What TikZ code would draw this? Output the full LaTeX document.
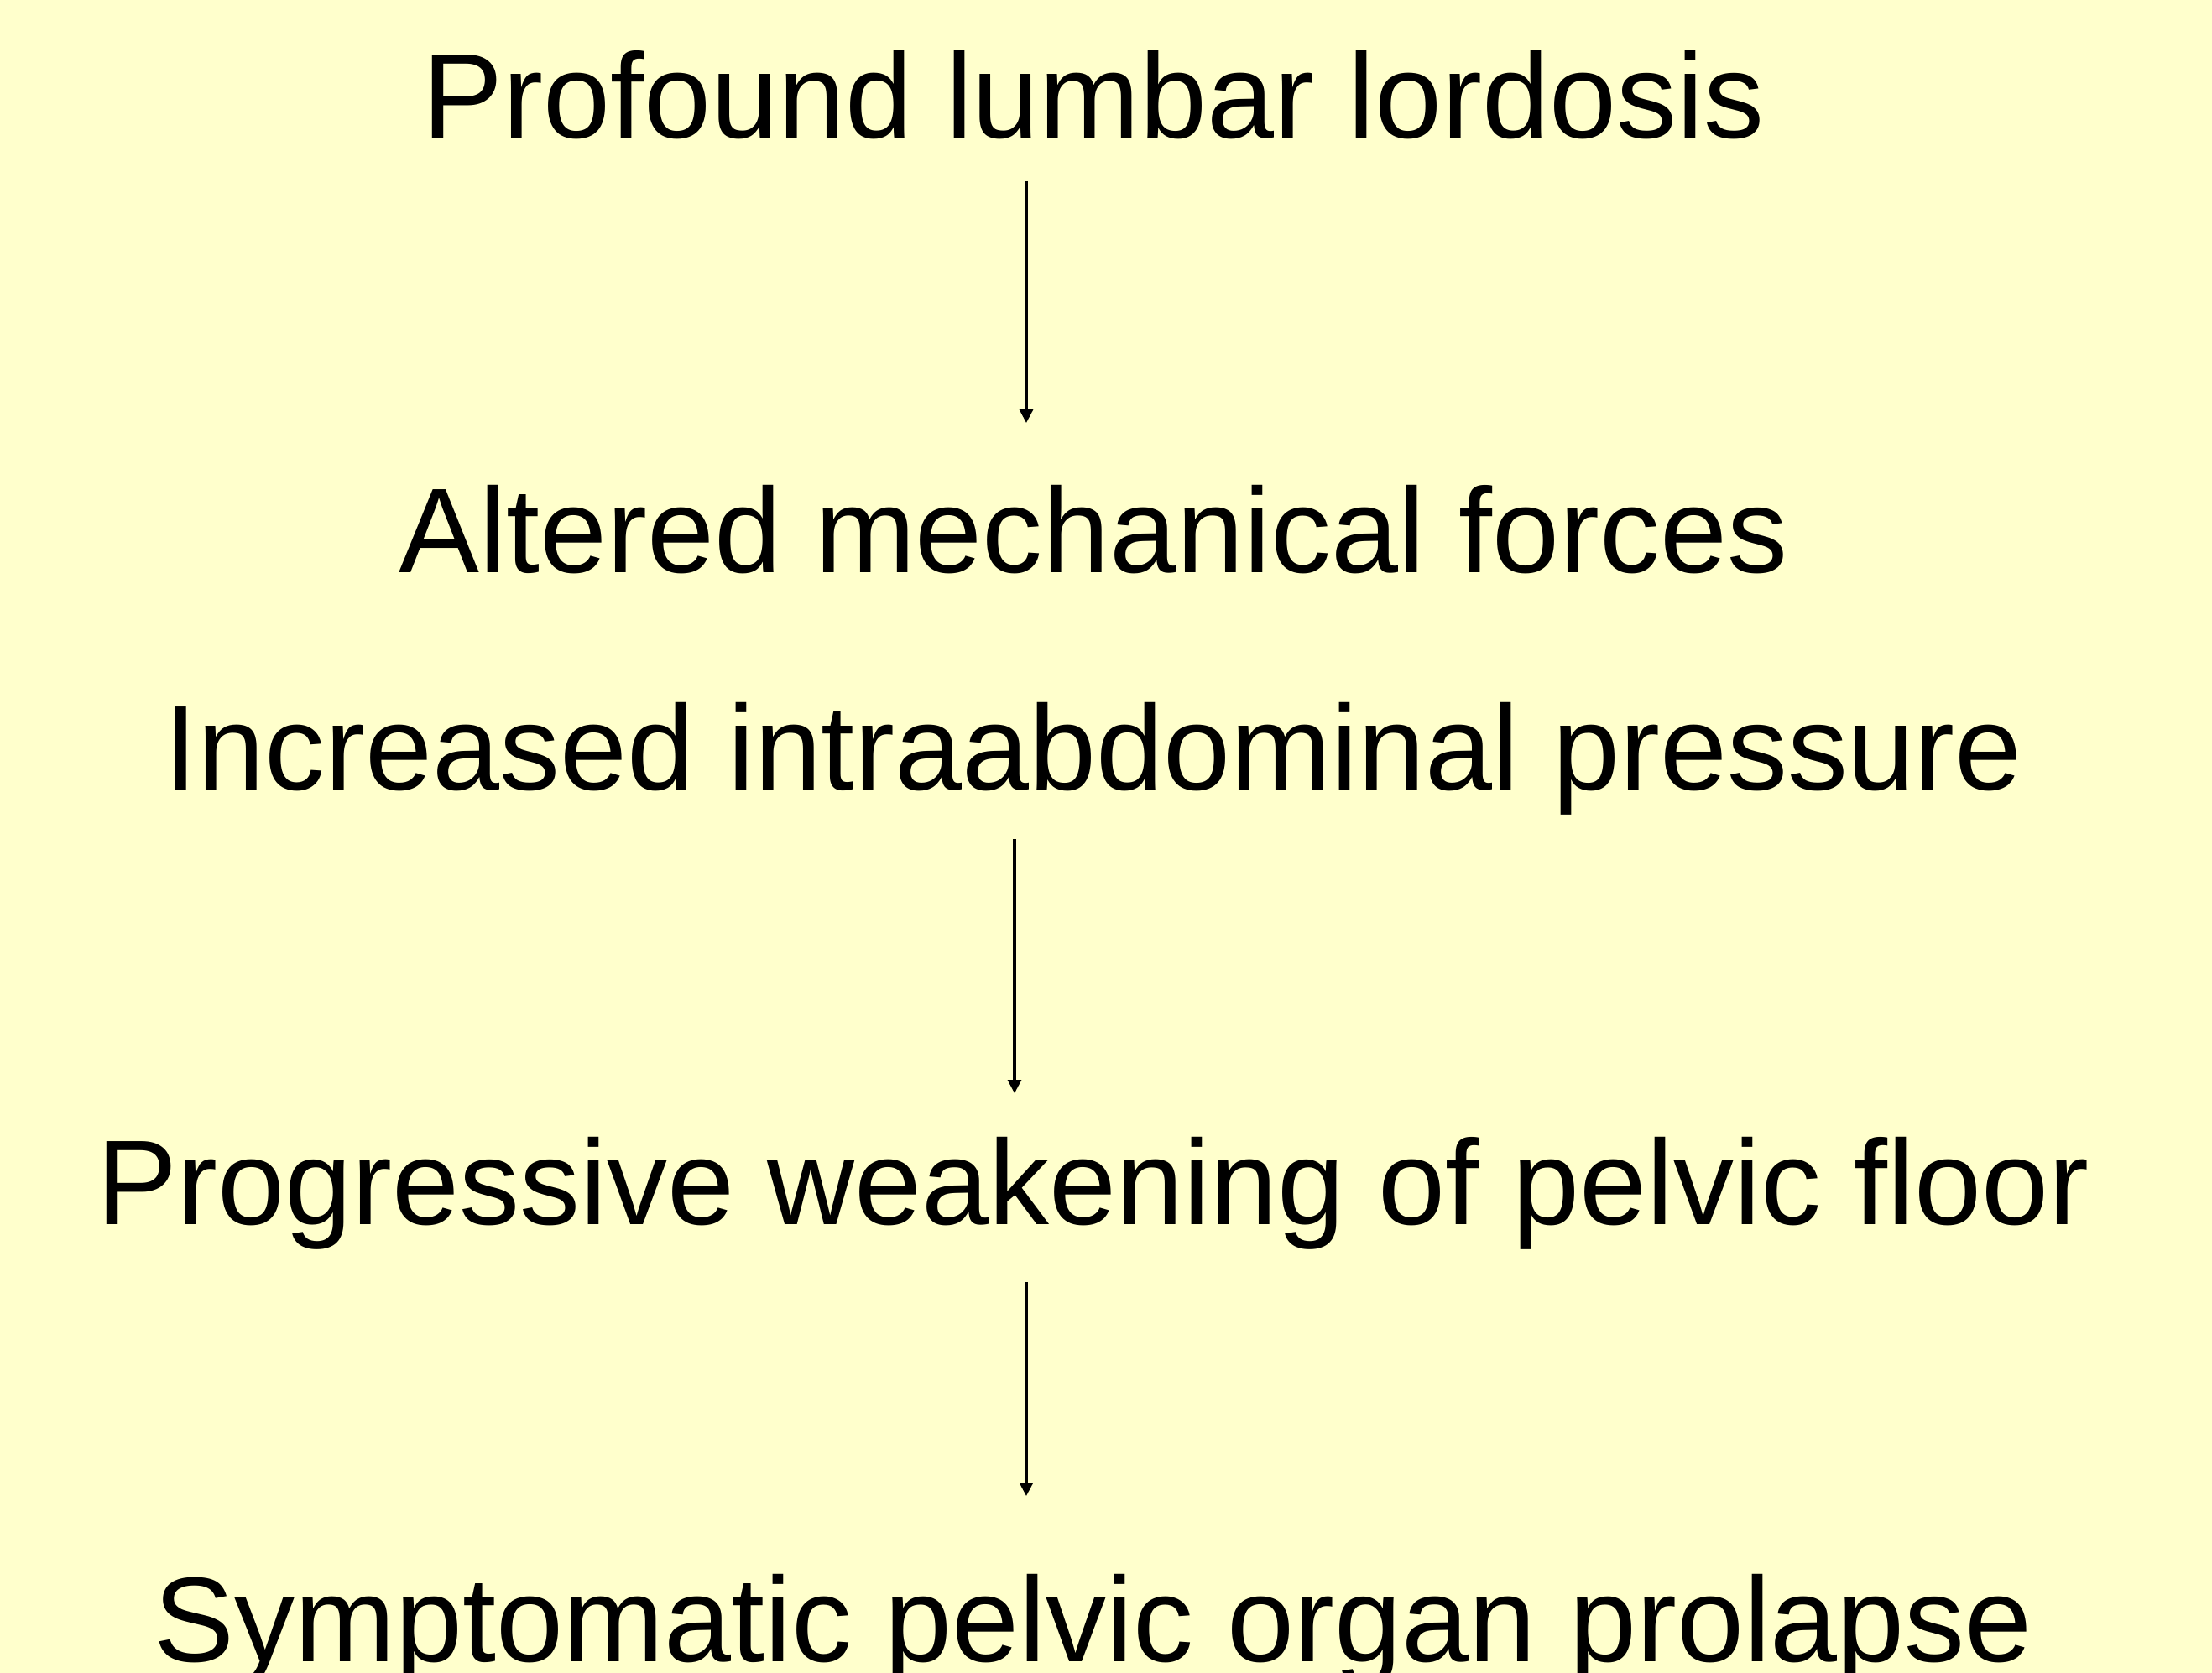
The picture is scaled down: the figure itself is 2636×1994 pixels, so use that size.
\documentclass[tikz,border=0pt]{standalone}
\usepackage{fontspec}
\setmainfont{Liberation Sans}
\usetikzlibrary{arrows.meta}
\definecolor{bgyellow}{RGB}{255,255,204}
\tikzset{
  lbl/.style={anchor=base, inner sep=0pt, font=\fontsize{40.9pt}{48pt}\selectfont, text=black},
  arr/.style={-{Triangle[width=0.16cm,length=0.16cm]}, line width=0.9pt, black}
}
\begin{document}
\begin{tikzpicture}[x=0.01cm,y=-0.01cm]
\clip (0,0) rectangle (2636,1994);
\fill[bgyellow] (0,0) rectangle (2636,1994);
\node[lbl] (t1) at (1303,165) {Profound lumbar lordosis};
\node[lbl] (t2) at (1303,682) {Altered mechanical forces};
\node[lbl] (t3) at (1303,941) {Increased intraabdominal pressure};
\node[lbl] (t4) at (1303,1459) {Progressive weakening of pelvic floor};
\node[lbl] (t5) at (1303,1980) {Symptomatic pelvic organ prolapse};
\coordinate (a1s) at (1223,216);
\coordinate (a1e) at (1223,504);
\coordinate (a2s) at (1209,1000);
\coordinate (a2e) at (1209,1303);
\coordinate (a3s) at (1223,1528);
\coordinate (a3e) at (1223,1783);
\draw[arr] (a1s) -- (a1e);
\draw[arr] (a2s) -- (a2e);
\draw[arr] (a3s) -- (a3e);
\end{tikzpicture}
\end{document}
